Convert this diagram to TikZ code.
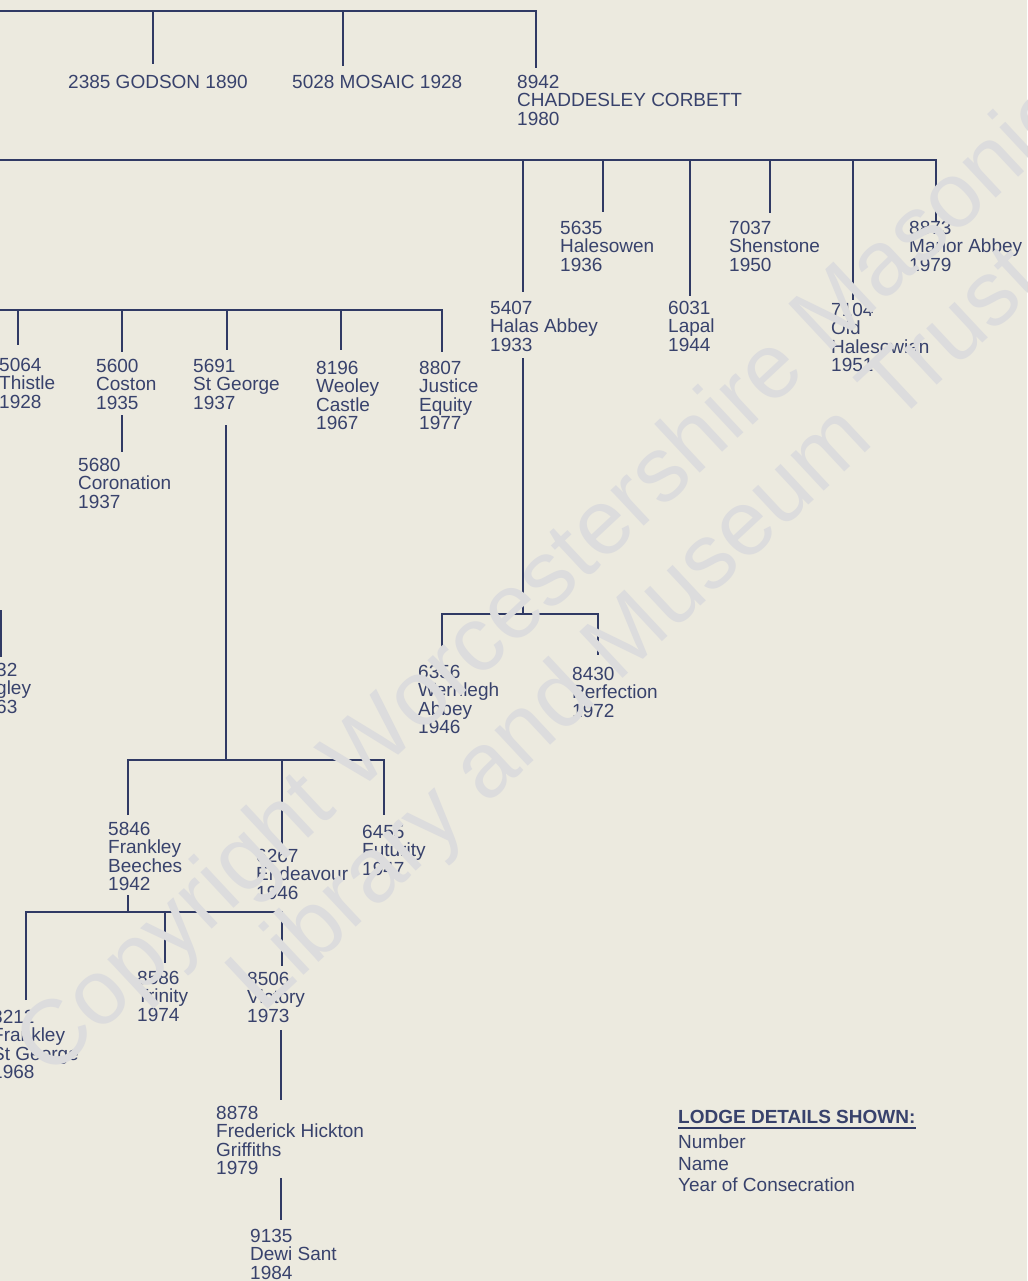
\documentclass[tikz,border=0pt]{standalone}
\usepackage{fontspec}
\setmainfont{Liberation Sans}
\definecolor{paper}{RGB}{236,234,223}
\definecolor{ink}{RGB}{48,58,100}
\definecolor{txt}{RGB}{56,66,108}
\definecolor{wm}{RGB}{220,220,221}
\begin{document}
\begin{tikzpicture}[x=1pt,y=-1pt,
  lodge/.style={anchor=north west, inner sep=0pt, align=left, text=txt,
    font=\fontsize{19}{18.5}\selectfont},
  link/.style={draw=ink, line width=2pt},
  wmark/.style={text=wm, font=\fontsize{92}{92}\selectfont, rotate=43,
    anchor=base west, inner sep=0pt}]
\path[use as bounding box, fill=paper] (0,0) rectangle (1027,1281);

% ---------- lodge nodes (x = left edge, y = top of first line)
\node[lodge] (godson) at (68,75) {2385 GODSON 1890};
\node[lodge] (mosaic) at (292,75) {5028 MOSAIC 1928};
\node[lodge] (chadd) at (517,75) {8942\\CHADDESLEY CORBETT\\1980};

\node[lodge] (halas) at (490,301) {5407\\Halas Abbey\\1933};
\node[lodge] (halesowen) at (560,221) {5635\\Halesowen\\1936};
\node[lodge] (lapal) at (668,301) {6031\\Lapal\\1944};
\node[lodge] (shenstone) at (729,221) {7037\\Shenstone\\1950};
\node[lodge] (oldhal) at (831,303) {7104\\Old\\Halesowian\\1951};
\node[lodge] (manor) at (909,221) {8873\\Manor Abbey\\1979};

\node[lodge] (wern) at (418,665) {6356\\Wernlegh\\Abbey\\1946};
\node[lodge] (perf) at (572,667) {8430\\Perfection\\1972};

\node[lodge] (thistle) at (-1,358) {5064\\Thistle\\1928};
\node[lodge] (coston) at (96,359) {5600\\Coston\\1935};
\node[lodge] (stgeorge) at (193,359) {5691\\St George\\1937};
\node[lodge] (weoley) at (316,361) {8196\\Weoley\\Castle\\1967};
\node[lodge] (justice) at (419,361) {8807\\Justice\\Equity\\1977};
\node[lodge] (coronation) at (78,458) {5680\\Coronation\\1937};

\node[lodge] (gley) at (-4,663) {32\\gley\\63};

\node[lodge] (beeches) at (108,822) {5846\\Frankley\\Beeches\\1942};
\node[lodge] (endeavour) at (256,849) {6267\\Endeavour\\1946};
\node[lodge] (futurity) at (362,825) {6455\\Futurity\\1947};

\node[lodge] (fstgeorge) at (-8,1010) {8212\\Frankley\\St George\\1968};
\node[lodge] (trinity) at (137,971) {8586\\Trinity\\1974};
\node[lodge] (victory) at (247,972) {8506\\Victory\\1973};
\node[lodge] (fhg) at (216,1106) {8878\\Frederick Hickton\\Griffiths\\1979};
\node[lodge] (dewi) at (250,1229) {9135\\Dewi Sant\\1984};

% ---------- legend
\node[anchor=north west, inner sep=0pt, text=txt, font=\fontsize{19}{19}\selectfont\bfseries]
  (legtitle) at (678,1110) {LODGE DETAILS SHOWN:};
\node[anchor=north west, inner sep=0pt, align=left, text=txt,
  font=\fontsize{19}{21.5}\selectfont] (legbody) at (678,1135)
  {Number\\Name\\Year of Consecration};
\draw[ink, line width=1.6pt] (legtitle.south west) ++(0,4) coordinate (ul1) -- (ul1 -| legtitle.south east);

% ---------- junction coordinates
\coordinate (t0) at (-5,11);   \coordinate (t3) at (536,11);
\coordinate (s0) at (-5,160);  \coordinate (s6) at (936,160);
\coordinate (r0) at (-5,310);  \coordinate (r5) at (442,310);
\coordinate (h0) at (523,614);
\coordinate (g0) at (226,760);
\coordinate (b0) at (128,912);

% top level
\draw[link] (t0) -- (t3) -- (536,68);
\draw[link] (153,11) -- (153,64);
\draw[link] (343,11) -- (343,66);

% second level
\draw[link] (s0) -- (s6) -- (936,222);
\draw[link] (523,160) -- (523,292);
\draw[link] (603,160) -- (603,212);
\draw[link] (690,160) -- (690,296);
\draw[link] (770,160) -- (770,213);
\draw[link] (853,160) -- (853,300);

% Halas Abbey descendants
\draw[link] (523,358) -- (h0);
\draw[link] (442,655) -- (442,614) -- (598,614) -- (598,655);

% third level
\draw[link] (r0) -- (r5) -- (442,352);
\draw[link] (18,310) -- (18,345);
\draw[link] (122,310) -- (122,352);
\draw[link] (227,310) -- (227,350);
\draw[link] (341,310) -- (341,350);
\draw[link] (122,415) -- (122,452);

% left partial
\draw[link] (1,610) -- (1,657);

% St George descendants
\draw[link] (226,425) -- (g0);
\draw[link] (128,815) -- (128,760) -- (384,760) -- (384,815);
\draw[link] (282,760) -- (282,852);

% Frankley Beeches descendants
\draw[link] (128,895) -- (b0);
\draw[link] (26,1000) -- (26,912) -- (282,912) -- (282,966);
\draw[link] (165,912) -- (165,963);

\draw[link] (281,1030) -- (281,1100);
\draw[link] (281,1178) -- (281,1220);

% ---------- watermark
\node[wmark] (wm1) at (50,1080) {Copyright Worcestershire Masonic};
\node[wmark] (wm2) at (262,1015) {Library and Museum Trust};
\end{tikzpicture}
\end{document}
